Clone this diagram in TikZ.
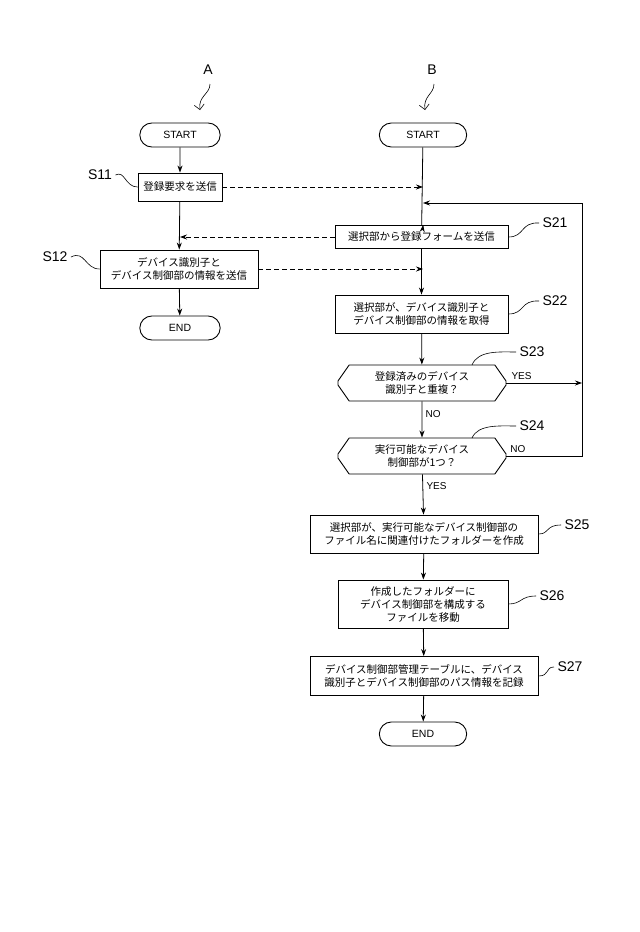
\documentclass[tikz,border=0pt]{standalone}
\usepackage{fontspec}
\setmainfont{Liberation Sans}
\newfontfamily\cjk{Noto Sans CJK JP}
\usetikzlibrary{shapes.misc,arrows.meta}
\begin{document}
\begin{tikzpicture}[x=1pt,y=-1pt,
 box/.style={draw,line width=0.9pt,minimum height=#1,align=center,font=\cjk\fontsize{10.5}{13}\selectfont,inner sep=2pt},
 term/.style={draw,line width=0.9pt,rounded rectangle,minimum width=87,minimum height=24,font=\fontsize{10.5}{12}\selectfont},
 hexa/.style={draw,line width=0.9pt,chamfered rectangle,chamfered rectangle xsep=14pt,chamfered rectangle angle=35,minimum width=168,minimum height=36,align=center,font=\cjk\fontsize{10.5}{13}\selectfont,inner sep=1pt},
 ar/.style={-{Stealth[length=7pt,width=5pt]},line width=0.8pt},
 da/.style={ar,dashed,dash pattern=on 5pt off 3pt},
 lab/.style={font=\fontsize{14}{14}\selectfont},
 yn/.style={font=\fontsize{10}{10}\selectfont},
 lead/.style={line width=0.6pt}]
\useasboundingbox (0,0) rectangle (640,932);
% column A
\node[lab] (A) at (208,70) {A};
\coordinate (Ae) at (200,110);
\draw[lead,-{Straight Barb[length=5pt]}] (210,84) .. controls (210,94) and (198,96) .. (Ae);
\node[term] (sa) at (180,135) {START};
\node[box=28,minimum width=84] (s11) at (180,187) {\cjk 登録要求を送信};
\node[box=38,minimum width=158] (s12) at (179,269) {デバイス識別子と\\デバイス制御部の情報を送信};
\node[term] (ea) at (180,328) {END};
\draw[ar] (sa) -- (s11);
\draw[ar] (s11) -- (s12);
\draw[ar] (s12) -- (ea);
% column B
\node[lab] (B) at (432,70) {B};
\coordinate (Be) at (425,110);
\draw[lead,-{Straight Barb[length=5pt]}] (434,84) .. controls (434,94) and (423,96) .. (Be);
\node[term,minimum width=94] (sb) at (423,135) {START};
\node[box=23,minimum width=173] (s21) at (421.5,237) {選択部から登録フォームを送信};
\node[box=38,minimum width=173] (s22) at (421.5,314) {選択部が、デバイス識別子と\\デバイス制御部の情報を取得};
\node[hexa] (s23) at (422,383) {登録済みのデバイス\\識別子と重複？};
\node[hexa] (s24) at (422,456) {実行可能なデバイス\\制御部が1つ？};
\node[box=38,minimum width=228] (s25) at (424,534) {選択部が、実行可能なデバイス制御部の\\ファイル名に関連付けたフォルダーを作成};
\node[box=48,minimum width=170] (s26) at (423,604) {作成したフォルダーに\\デバイス制御部を構成する\\ファイルを移動};
\node[box=39,minimum width=228] (s27) at (424,676) {デバイス制御部管理テーブルに、デバイス\\識別子とデバイス制御部のパス情報を記録};
\node[term,minimum width=94] (eb) at (423,734) {END};
\coordinate (m1) at (423,187);
\coordinate (m2) at (423,269);
\coordinate (m3) at (180,237);
\coordinate (lp) at (423,203);
\coordinate (rt) at (582,203);
\coordinate (ry) at (582,383);
\coordinate (rn) at (582,456);
\draw[line width=0.8pt] (sb) -- (s21);
\draw[ar] (423,226) -- (s21);
\draw[ar] (s21) -- (s22);
\draw[ar] (s22) -- (s23);
\draw[ar] (s23) -- node[pos=0.35,right,yn]{NO} (s24);
\draw[ar] (s24) -- node[pos=0.3,right,yn]{YES} (s25);
\draw[ar] (s25) -- (s26);
\draw[ar] (s26) -- (s27);
\draw[ar] (s27) -- (eb);
\draw[ar] (s23.east) -- node[above,yn,pos=0.2]{YES} (ry);
\draw[ar,-] (s24.east) -- node[above,yn,pos=0.15]{NO} (rn) -- (rt);
\draw[ar] (rt) -- (lp);
\draw[da] (s11) -- (m1);
\draw[da] (s12) -- (m2);
\draw[da] (s21) -- (m3);
% step labels
\node[lab] (l11) at (100,175) {S11};
\node[lab] (l12) at (55,257) {S12};
\node[lab] (l21) at (555,223) {S21};
\node[lab] (l22) at (555,301) {S22};
\node[lab] (l23) at (532,352) {S23};
\node[lab] (l24) at (532,426) {S24};
\node[lab] (l25) at (577,525) {S25};
\node[lab] (l26) at (552,596) {S26};
\node[lab] (l27) at (570,667) {S27};
\draw[lead] (l11.east) .. controls (125,170) and (125,187) .. (s11.west);
\draw[lead] (l12.east) .. controls (85,250) and (85,269) .. (s12.west);
\draw[lead] (s21.east) .. controls (525,237) and (520,222) .. (l21.west);
\draw[lead] (s22.east) .. controls (525,314) and (520,300) .. (l22.west);
\draw[lead] (472,365) .. controls (478,350) and (500,352) .. (l23.west);
\draw[lead] (472,438) .. controls (478,424) and (500,426) .. (l24.west);
\draw[lead] (s25.east) .. controls (550,534) and (545,525) .. (l25.west);
\draw[lead] (s26.east) .. controls (522,604) and (520,596) .. (l26.west);
\draw[lead] (s27.east) .. controls (550,676) and (545,667) .. (l27.west);
\end{tikzpicture}
\end{document}
